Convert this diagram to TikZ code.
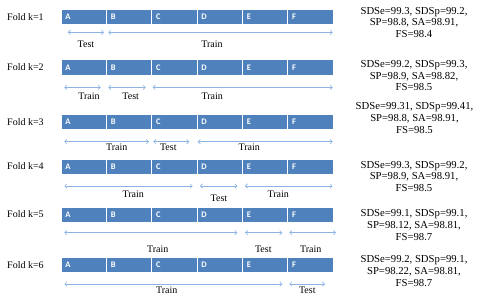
\documentclass[tikz,border=0pt]{standalone}
\usepackage{fontspec}
\setmainfont{Liberation Serif}
\newfontfamily\segfont{Carlito}
\usetikzlibrary{arrows.meta}
\definecolor{barblue}{HTML}{4F81BD}
\definecolor{arrblue}{HTML}{8DB3E2}
\tikzset{
  seg/.style={fill=barblue,draw=white,line width=0.6pt,minimum width=45.35pt,minimum height=15.3pt,inner sep=0pt,anchor=north west},
  letter/.style={anchor=west,text=white,font=\segfont\bfseries\fontsize{8.5}{9}\selectfont,inner sep=0pt},
  foldlab/.style={anchor=west,font=\fontsize{10}{12}\selectfont,inner sep=0pt},
  arr/.style={arrblue,line width=0.6pt,{Straight Barb[length=2.2pt,width=4.5pt]}-{Straight Barb[length=2.2pt,width=4.5pt]}},
  split/.style={font=\fontsize{10}{12}\selectfont,inner sep=0pt},
  res/.style={align=center,font=\fontsize{10.7}{11.8}\selectfont,inner sep=0pt}
}
\begin{document}
\begin{tikzpicture}[x=1pt,y=-1pt]
\useasboundingbox (0,0) rectangle (480,298);
% bars
\foreach \r/\y in {1/9,2/59.3,3/114,4/158.7,5/206.7,6/257}{
  \foreach \i/\L in {0/A,1/B,2/C,3/D,4/E,5/F}{
    \node[seg] (r\r\L) at ({60.7+\i*45.35},\y) {};
    \node[letter] (t\r\L) at ([xshift=4.5pt]r\r\L.west) {\L};
  }
  \node[foldlab] (fold\r) at (7,{\y+7.6}) {Fold k=\r};
}
% row 1
\coordinate (a1s) at (67.7,32.3); \coordinate (a1e) at (104,32.3);
\coordinate (b1s) at (108.3,32.3); \coordinate (b1e) at (332.7,32.3);
\draw[arr] (a1s) -- (a1e); \draw[arr] (b1s) -- (b1e);
\node[split] (l1a) at (86,44.3) {Test};
\node[split] (l1b) at (212,44.3) {Train};
% row 2
\coordinate (a2s) at (64.3,87.3); \coordinate (a2e) at (100.7,87.3);
\coordinate (b2s) at (108.3,87.3); \coordinate (b2e) at (145.7,87.3);
\coordinate (c2s) at (152.7,87.3); \coordinate (c2e) at (332.7,87.3);
\draw[arr] (a2s) -- (a2e); \draw[arr] (b2s) -- (b2e); \draw[arr] (c2s) -- (c2e);
\node[split] (l2a) at (89,96.5) {Train};
\node[split] (l2b) at (130.7,96.5) {Test};
\node[split] (l2c) at (212.3,96.5) {Train};
% row 3
\coordinate (a3s) at (64.3,141.7); \coordinate (a3e) at (149,141.7);
\coordinate (b3s) at (153.3,141.7); \coordinate (b3e) at (189.3,141.7);
\coordinate (c3s) at (197.7,141.7); \coordinate (c3e) at (332.7,141.7);
\draw[arr] (a3s) -- (a3e); \draw[arr] (b3s) -- (b3e); \draw[arr] (c3s) -- (c3e);
\node[split] (l3a) at (116.7,147.2) {Train};
\node[split] (l3b) at (168.3,147.2) {Test};
\node[split] (l3c) at (249.3,147.2) {Train};
% row 4
\coordinate (a4s) at (64.3,186); \coordinate (a4e) at (192.7,186);
\coordinate (b4s) at (200,186); \coordinate (b4e) at (237.3,186);
\coordinate (c4s) at (245,186); \coordinate (c4e) at (332.7,186);
\draw[arr] (a4s) -- (a4e); \draw[arr] (b4s) -- (b4e); \draw[arr] (c4s) -- (c4e);
\node[split] (l4a) at (133.3,194.3) {Train};
\node[split] (l4b) at (219,198.5) {Test};
\node[split] (l4c) at (278.3,194.3) {Train};
% row 5
\coordinate (a5s) at (64.3,232.7); \coordinate (a5e) at (237.3,232.7);
\coordinate (b5s) at (245,232.7); \coordinate (b5e) at (282.3,232.7);
\coordinate (c5s) at (289.3,232.7); \coordinate (c5e) at (336,232.7);
\draw[arr] (a5s) -- (a5e); \draw[arr] (b5s) -- (b5e); \draw[arr] (c5s) -- (c5e);
\node[split] (l5a) at (157.7,249) {Train};
\node[split] (l5b) at (263.3,249) {Test};
\node[split] (l5c) at (310.7,249) {Train};
% row 6
\coordinate (a6s) at (64.3,284); \coordinate (a6e) at (282.3,284);
\coordinate (b6s) at (289.3,284); \coordinate (b6e) at (325,284);
\draw[arr] (a6s) -- (a6e); \draw[arr] (b6s) -- (b6e);
\node[split] (l6a) at (166.7,290) {Train};
\node[split] (l6b) at (307.3,290) {Test};
% results
\node[res] (res1) at (414,22.4) {SDSe=99.3, SDSp=99.2,\\SP=98.8, SA=98.91,\\FS=98.4};
\node[res] (res2) at (414,75.7) {SDSe=99.2, SDSp=99.3,\\SP=98.9, SA=98.82,\\FS=98.5};
\node[res] (res3) at (414.5,118.3) {SDSe=99.31, SDSp=99.41,\\SP=98.8, SA=98.91,\\FS=98.5};
\node[res] (res4) at (414,176.4) {SDSe=99.3, SDSp=99.2,\\SP=98.9, SA=98.91,\\FS=98.5};
\node[res] (res5) at (414,224.8) {SDSe=99.1, SDSp=99.1,\\SP=98.12, SA=98.81,\\FS=98.7};
\node[res] (res6) at (414,271.2) {SDSe=99.2, SDSp=99.1,\\SP=98.22, SA=98.81,\\FS=98.7};
\end{tikzpicture}
\end{document}
